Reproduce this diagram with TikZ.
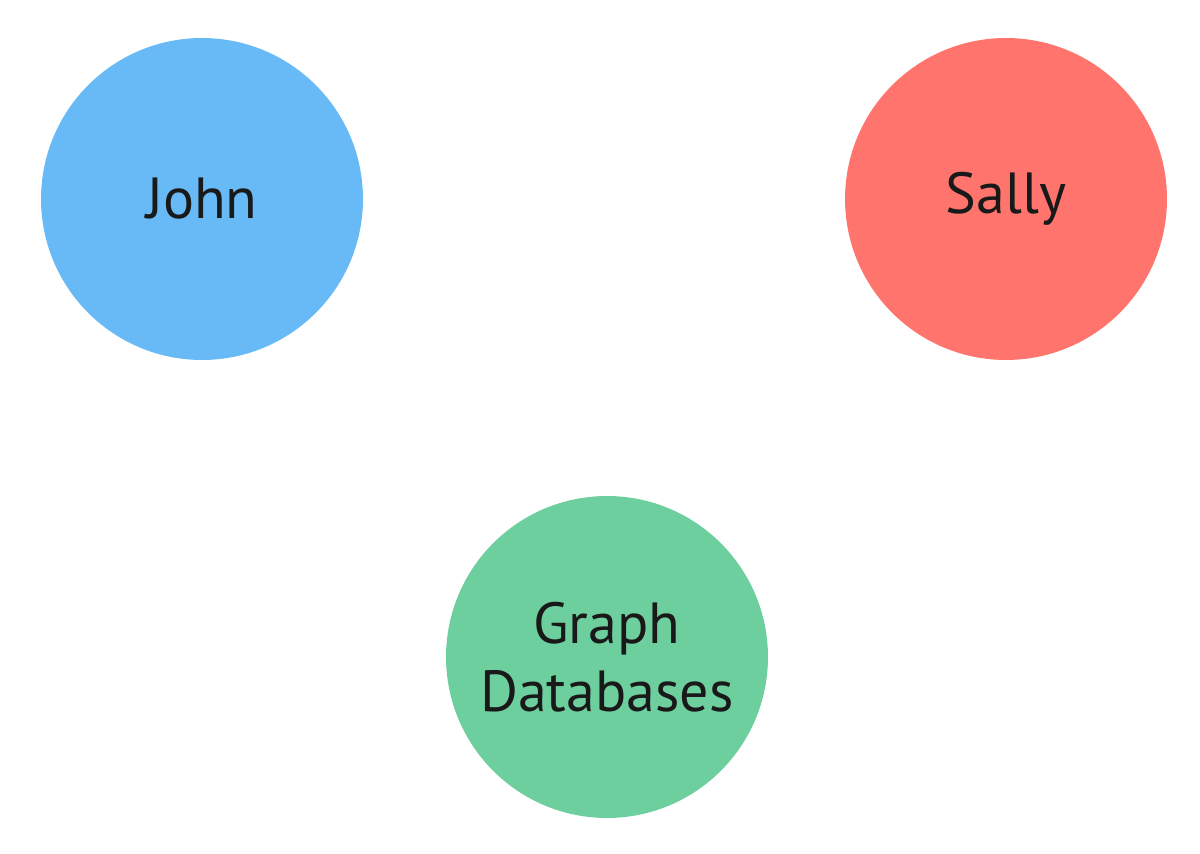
\documentclass[tikz,border=0pt]{standalone}
\usepackage{fontspec}
\setmainfont{PT Sans}
\usetikzlibrary{positioning}
\definecolor{johnblue}{HTML}{67BAF5}
\definecolor{sallyred}{HTML}{FF756D}
\definecolor{graphgreen}{HTML}{6DCF9E}
\tikzset{
  person/.style={circle,minimum size=6.44cm,inner sep=0pt,align=center,
    font=\fontsize{33}{39}\selectfont,text=black!90}
}
\begin{document}
\begin{tikzpicture}[x=0.02cm,y=0.02cm]
  \useasboundingbox (0,0) rectangle (1200,853);
  \node[person,fill=johnblue] (john) at (202,654) {John};
  \node[person,fill=sallyred] (sally) at (1006,654) {Sally};
  \node[person,fill=graphgreen] (graphdb) at (607,196) {Graph\\Databases};
\end{tikzpicture}
\end{document}
